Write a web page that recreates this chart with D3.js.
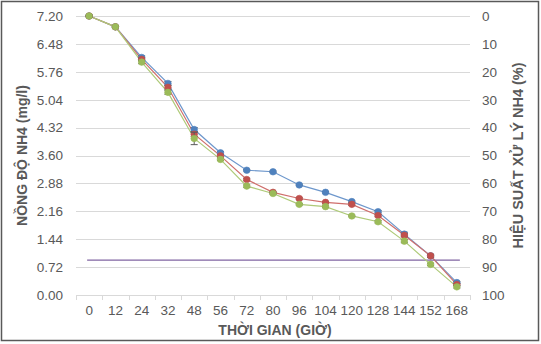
<!DOCTYPE html>
<html><head><meta charset="utf-8">
<script src="https://cdn.jsdelivr.net/npm/d3@7"></script>
<style>
html,body{margin:0;padding:0;background:#fff;}
svg{display:block;}
text{font-family:"Liberation Sans",Arial,sans-serif;}
</style></head>
<body>
<script>
const categories = ["0","12","24","32","48","56","72","80","96","104","120","128","144","152","168"];
const seriesBlue  = [7.20,6.92,6.13,5.46,4.27,3.67,3.22,3.18,2.84,2.65,2.41,2.15,1.57,1.01,0.32];
const seriesRed   = [7.20,6.92,6.08,5.36,4.15,3.59,2.98,2.65,2.49,2.39,2.34,2.05,1.54,1.01,0.27];
const seriesGreen = [7.20,6.92,6.01,5.23,4.04,3.50,2.81,2.62,2.34,2.28,2.04,1.89,1.39,0.79,0.21];
const errBlue  = [0.02,0.02,0.04,0.05,0.05,0.03,0.02,0.02,0.02,0.02,0.02,0.03,0.05,0.03,0.03];
const errRed   = [0.02,0.02,0.04,0.05,0.06,0.03,0.03,0.02,0.02,0.02,0.03,0.03,0.04,0.04,0.03];
const errGreen = [0.02,0.02,0.04,0.05,0.16,0.03,0.03,0.02,0.02,0.02,0.02,0.03,0.04,0.03,0.03];
const limitValues = categories.map(() => 0.90);
const leftTicks = [0,0.72,1.44,2.16,2.88,3.60,4.32,5.04,5.76,6.48,7.20];
const rightTicks = [0,10,20,30,40,50,60,70,80,90,100];
const yTitleLeft = "NỒNG ĐỘ NH4 (mg/l)";
const yTitleRight = "HIỆU SUẤT XỬ LÝ NH4 (%)";
const xTitle = "THỜI GIAN (GIỜ)";

const W = 541, H = 344;
const m = {left:76, right:71, top:16, bottom:49};
const svg = d3.select("body").append("svg").attr("width",W).attr("height",H);

svg.append("rect").attr("x",1.5).attr("y",1.5).attr("width",W-4).attr("height",H-5)
  .attr("fill","#fff").attr("stroke","#595959").attr("stroke-width",1.5);

const x = d3.scaleBand().domain(categories).range([m.left, W-m.right]);
const y = d3.scaleLinear().domain([0,7.2]).range([H-m.bottom, m.top]);
const yR = d3.scaleLinear().domain([0,100]).range([m.top, H-m.bottom]);

// gridlines
svg.append("g").selectAll("line").data(leftTicks.slice(1)).join("line")
  .attr("x1",m.left).attr("x2",W-m.right)
  .attr("y1",d=>Math.round(y(d))+0.5).attr("y2",d=>Math.round(y(d))+0.5)
  .attr("stroke","#d9d9d9").attr("stroke-width",1);

// left axis
const gL = svg.append("g").attr("transform",`translate(${m.left},0)`)
  .call(d3.axisLeft(y).tickValues(leftTicks).tickFormat(d3.format(".2f")).tickSize(0).tickPadding(13));
gL.select(".domain").remove();
gL.selectAll("text").attr("fill","#595959").attr("font-size","13.5px");

// right axis
const gR = svg.append("g").attr("transform",`translate(${W-m.right},0)`)
  .call(d3.axisRight(yR).tickValues(rightTicks).tickFormat(d3.format("d")).tickSize(0).tickPadding(12));
gR.select(".domain").remove();
gR.selectAll("text").attr("fill","#595959").attr("font-size","13.5px");

// bottom axis
const gB = svg.append("g").attr("transform",`translate(0,${H-m.bottom})`)
  .call(d3.axisBottom(x).tickSize(0).tickPadding(10));
gB.select(".domain").attr("stroke","#d9d9d9");
gB.selectAll("text").attr("fill","#595959").attr("font-size","13.5px");
const bounds = categories.map((c,i)=>x(c)).concat([W-m.right]);
gB.selectAll("line.tk").data(bounds).join("line").attr("class","tk")
  .attr("x1",d=>Math.round(d)+0.5).attr("x2",d=>Math.round(d)+0.5)
  .attr("y1",0).attr("y2",5).attr("stroke","#d9d9d9");

const cx = c => x(c) + x.bandwidth()/2;

// limit line
svg.append("path").datum(limitValues)
  .attr("d", d3.line().x((d,i)=>cx(categories[i]) + (i===0?-2:(i===limitValues.length-1?3:0))).y(d=>y(d)))
  .attr("fill","none").attr("stroke","#8064A2").attr("stroke-width",1.3);

const series = [
  {vals:seriesBlue, err:errBlue, color:"#4F81BD", line:"#6d97cc"},
  {vals:seriesRed, err:errRed, color:"#C0504D", line:"#cf6e6b"},
  {vals:seriesGreen, err:errGreen, color:"#9BBB59", line:"#aeca78"}
];
series.forEach(s=>{
  svg.append("path").datum(s.vals)
    .attr("d", d3.line().x((d,i)=>cx(categories[i])).y(d=>y(d)))
    .attr("fill","none").attr("stroke",s.line).attr("stroke-width",1.2);
});
series.forEach(s=>{
  const g = svg.append("g");
  s.vals.forEach((v,i)=>{
    const px = cx(categories[i]);
    const e = s.err[i];
    g.append("line").attr("x1",px).attr("x2",px).attr("y1",y(v+e)).attr("y2",y(v-e)).attr("stroke","#595959").attr("stroke-width",1);
    g.append("line").attr("x1",px-3.5).attr("x2",px+3.5).attr("y1",y(v+e)).attr("y2",y(v+e)).attr("stroke","#595959").attr("stroke-width",1);
    g.append("line").attr("x1",px-3.5).attr("x2",px+3.5).attr("y1",y(v-e)).attr("y2",y(v-e)).attr("stroke","#595959").attr("stroke-width",1);
  });
  g.selectAll("circle").data(s.vals).join("circle")
    .attr("cx",(d,i)=>cx(categories[i])).attr("cy",d=>y(d)).attr("r",3.3)
    .attr("fill",s.color).attr("stroke",s.color).attr("stroke-width",0.6);
});

// titles
const midY = (m.top + H - m.bottom)/2;
svg.append("text").attr("transform",`translate(22,${midY}) rotate(-90)`)
  .attr("text-anchor","middle").attr("dominant-baseline","central")
  .attr("font-size","14px").attr("font-weight","bold").attr("fill","#595959").text(yTitleLeft);
svg.append("text").attr("transform",`translate(518,${midY}) rotate(-90)`)
  .attr("text-anchor","middle").attr("dominant-baseline","central")
  .attr("font-size","14.5px").attr("font-weight","bold").attr("fill","#595959").text(yTitleRight);
svg.append("text").attr("x",275).attr("y",335)
  .attr("text-anchor","middle").attr("font-size","14px").attr("font-weight","bold").attr("fill","#595959").text(xTitle);
</script>
</body></html>
